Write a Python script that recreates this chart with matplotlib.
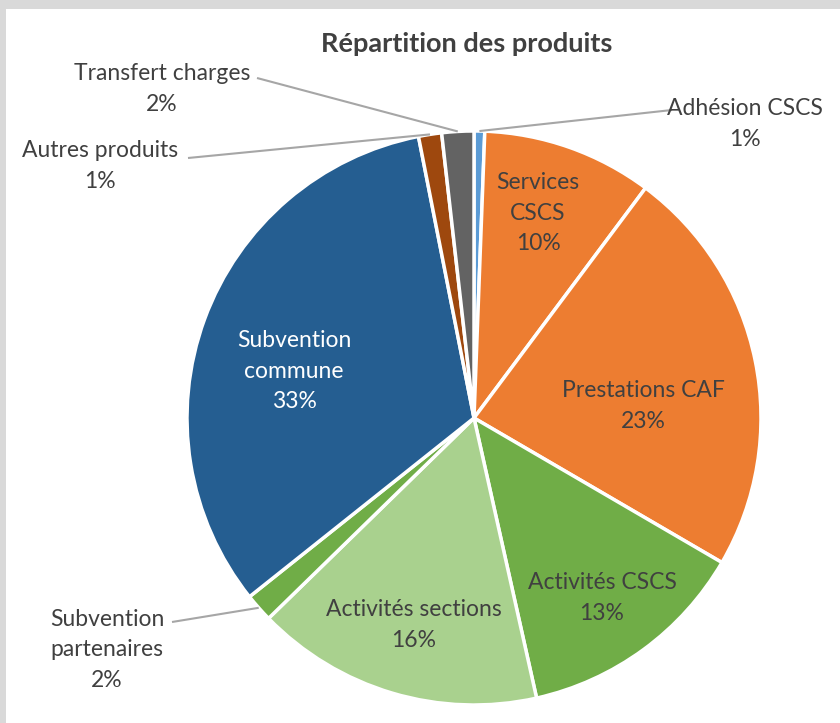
import numpy as np
import matplotlib.pyplot as plt
from matplotlib.patches import Rectangle

plt.rcParams['font.family'] = ['Lato', 'DejaVu Sans']

labels = ['Adhésion CSCS', 'Services\nCSCS', 'Prestations CAF', 'Activités CSCS',
          'Activités sections', 'Subvention\npartenaires', 'Subvention\ncommune',
          'Autres produits', 'Transfert charges']
values = [0.6, 9.6, 23.2, 13.1, 16.2, 1.6, 32.6, 1.3, 1.8]
colors = ['#5B9BD5', '#ED7D31', '#ED7D31', '#70AD47', '#A9D18E',
          '#70AD47', '#255E91', '#9E480E', '#636363']

W, H = 840, 723
fig = plt.figure(figsize=(W / 100, H / 100), dpi=100, facecolor='#D9D9D9')
fig.patches.append(Rectangle((6 / W, 0), 1, (H - 9) / H, transform=fig.transFigure,
                             facecolor='white', edgecolor='none', zorder=-5))
ax = fig.add_axes([0, 0, 1, 1])
ax.set_facecolor('none')

cx, cy, r = 474, 418, 287
wedges, _ = ax.pie(values, colors=colors, startangle=-90, counterclock=True,
                   center=(cx, cy), radius=r,
                   wedgeprops=dict(edgecolor='white', linewidth=2.5))
ax.set_xlim(0, W)
ax.set_ylim(H, 0)
ax.set_aspect('equal')
ax.axis('off')

txt = '#404040'
ax.text(467, 44, 'Répartition des produits', ha='center', va='center',
        fontsize=19.5, fontweight='bold', color=txt)

# label centres (pixels) and leader line ends
label_pos = [(745, 124), (538, 213), (643, 406), (602, 598), (414, 625),
             (107, 650), (294, 371), (100, 166), (162, 89)]
line_end = [(672, 110), None, None, None, None, (172, 622), None, (188, 158), (257, 78)]
text_col = [txt] * 6 + ['white'] + [txt] * 2

for w, lab, v, pos, le, tc in zip(wedges, labels, values, label_pos, line_end, text_col):
    s = f'{lab}\n{round(v):.0f}%'
    ax.text(pos[0], pos[1], s, ha='center', va='center', fontsize=16.5,
            color=tc, linespacing=1.58)
    if le is not None:
        ang = np.deg2rad((w.theta1 + w.theta2) / 2)
        px = cx + r * np.cos(ang)
        py = cy + r * np.sin(ang)
        ax.plot([le[0], px], [le[1], py], color='#A6A6A6', lw=1.5,
                solid_capstyle='butt')

fig.savefig('out.png', dpi=100, facecolor=fig.get_facecolor())
